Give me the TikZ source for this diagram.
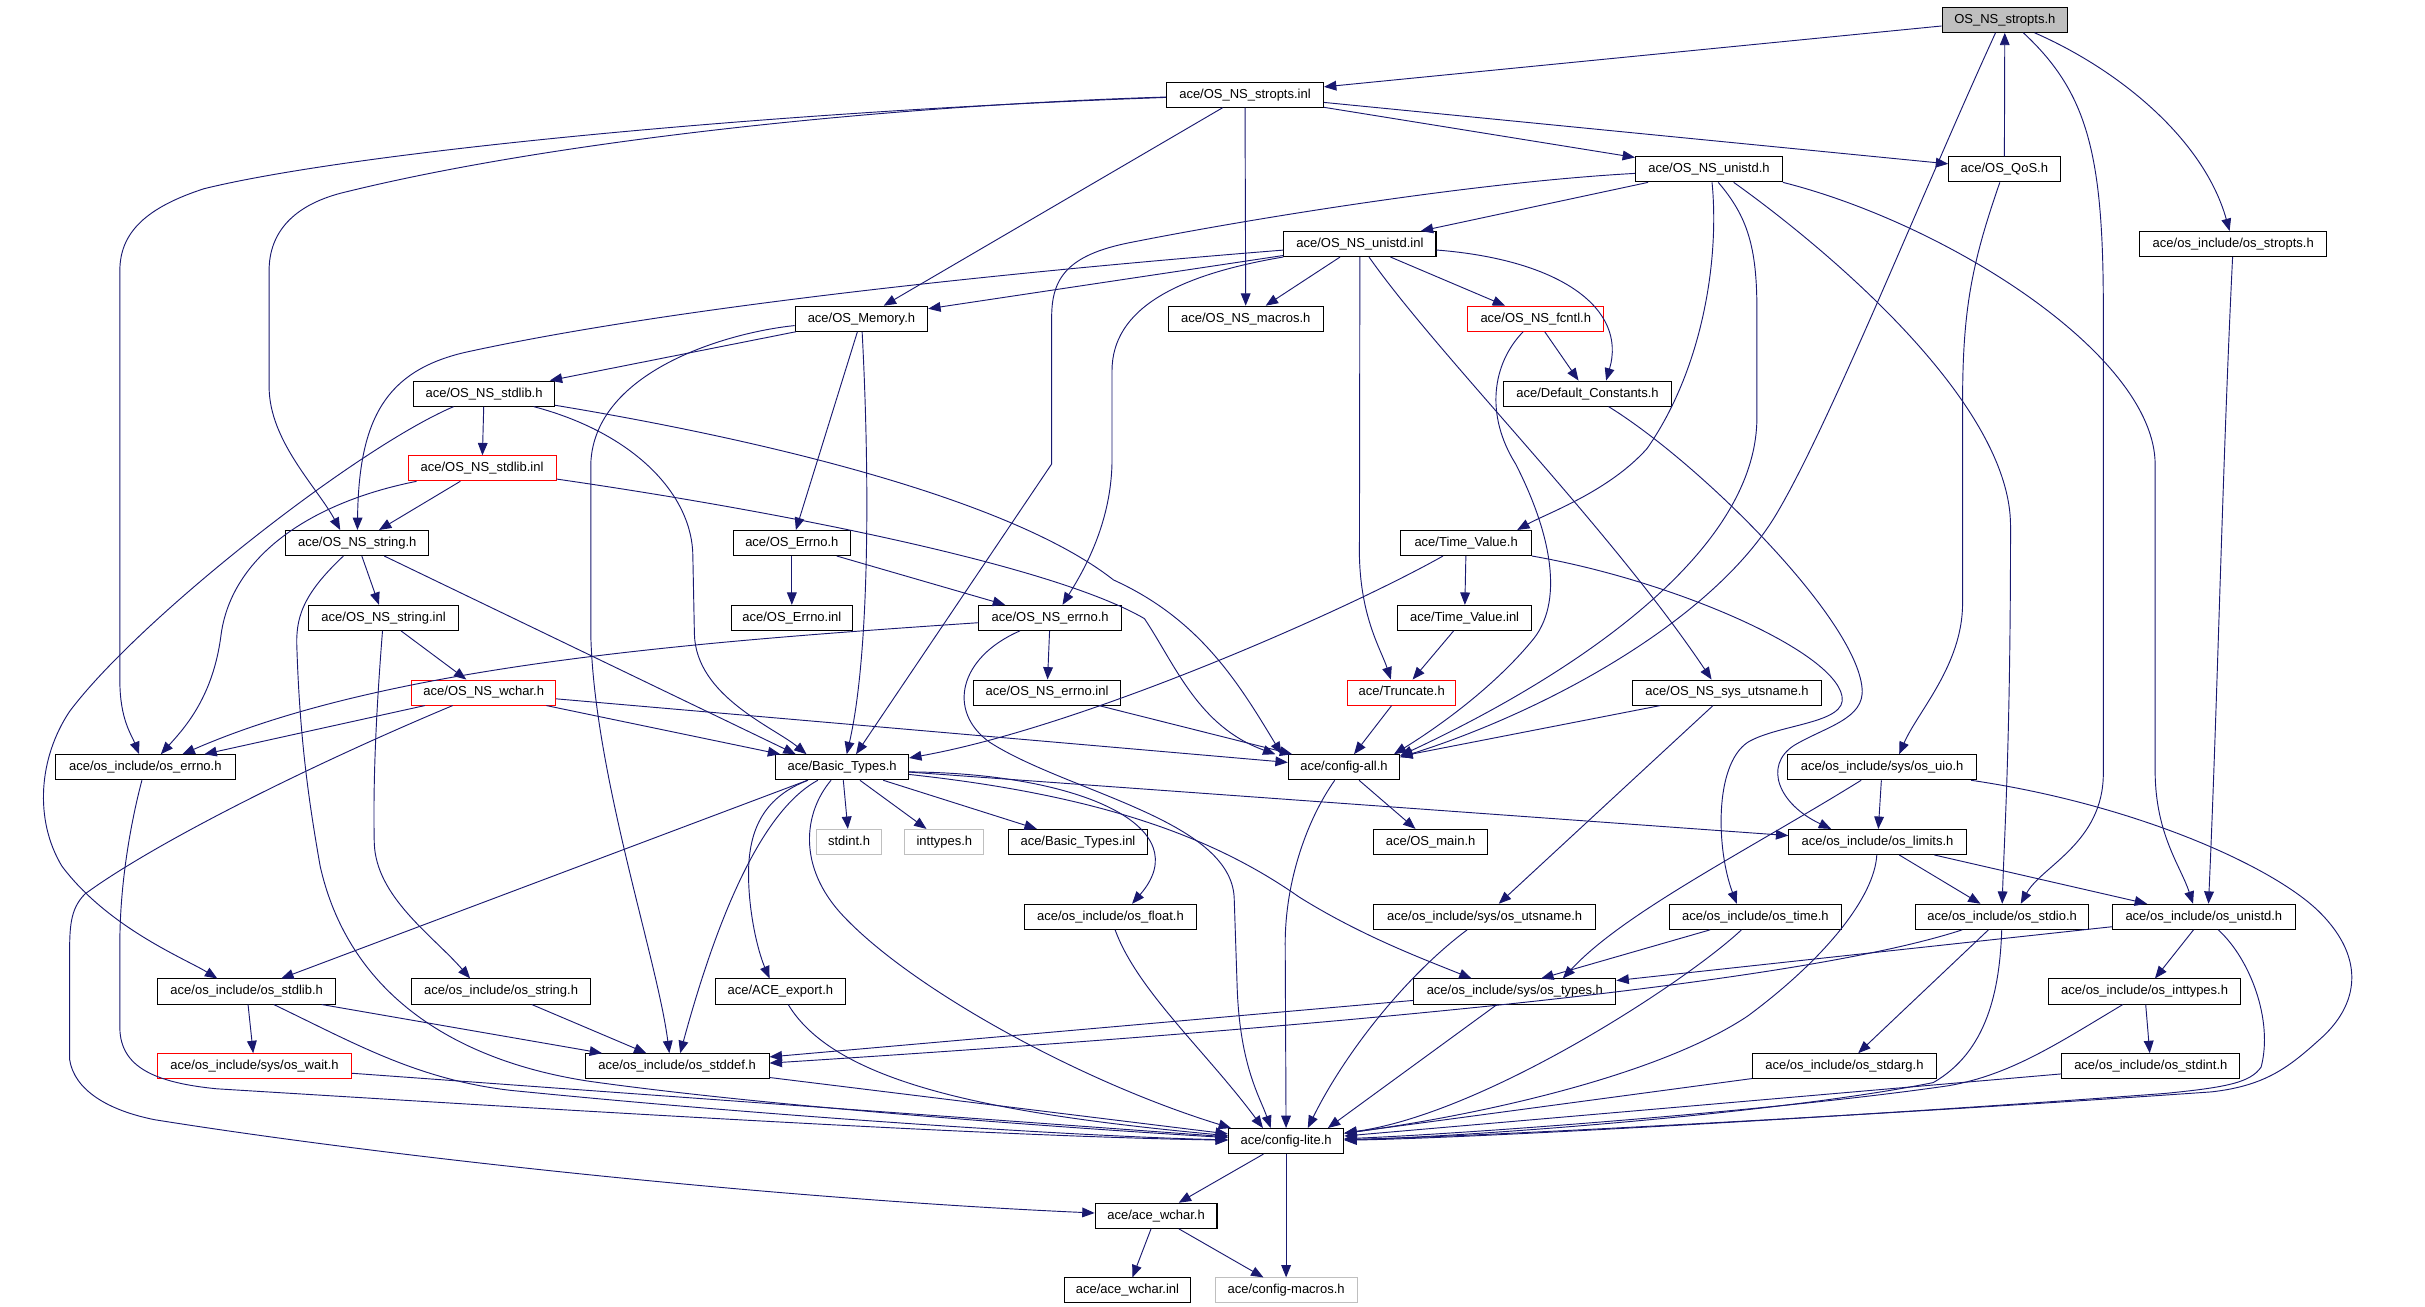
\documentclass[tikz,border=0pt]{standalone}
\usepackage{fontspec}
\setmainfont{Liberation Sans}
\usetikzlibrary{arrows.meta}
\definecolor{edgecol}{HTML}{191970}
\definecolor{rootfill}{HTML}{BFBFBF}
\definecolor{graybd}{HTML}{BFBFBF}
\begin{document}
\begin{tikzpicture}[x=1pt,y=-1pt,
  box/.style={draw=black, line width=0.65pt, fill=white, minimum height=16.2pt, inner xsep=3pt, inner ysep=0pt, text height=6.3pt, text depth=1.9pt, font=\fontsize{8.4}{10}\selectfont},
  redbox/.style={box, draw=red},
  graybox/.style={box, draw=graybd},
  rootbox/.style={box, fill=rootfill},
  dep/.style={draw=edgecol, line width=0.6pt, -{Triangle[length=8pt,width=6.3pt]}}]
\fill[white] (0,0) rectangle (1568,845.1);
\useasboundingbox (0,0) rectangle (1568,845.1);
% nodes
\node[rootbox, minimum width=81pt] (root) at (1296.3,12.8) {OS\_NS\_stropts.h};
\node[box, minimum width=101.5pt] (inl) at (805,61.2) {ace/OS\_NS\_stropts.inl};
\node[box, minimum width=95pt] (unh) at (1105,109.5) {ace/OS\_NS\_unistd.h};
\node[box, minimum width=72pt] (qos) at (1296,109.5) {ace/OS\_QoS.h};
\node[box, minimum width=121pt] (ostr) at (1444,157.8) {ace/os\_include/os\_stropts.h};
\node[box, minimum width=98.4pt] (uni) at (879.3,157.8) {ace/OS\_NS\_unistd.inl};
\node[box, minimum width=85.7pt] (mem) at (557,206.1) {ace/OS\_Memory.h};
\node[box, minimum width=100pt] (mac) at (805.5,206.1) {ace/OS\_NS\_macros.h};
\node[redbox, minimum width=88pt] (fcn) at (993,206.1) {ace/OS\_NS\_fcntl.h};
\node[box, minimum width=91pt] (nsl) at (313,254.5) {ace/OS\_NS\_stdlib.h};
\node[box, minimum width=109pt] (dc) at (1026.5,254.5) {ace/Default\_Constants.h};
\node[redbox, minimum width=95.7pt] (nsli) at (311.7,302.8) {ace/OS\_NS\_stdlib.inl};
\node[box, minimum width=92.5pt] (nss) at (231,351.1) {ace/OS\_NS\_string.h};
\node[box, minimum width=76pt] (err) at (512,351.1) {ace/OS\_Errno.h};
\node[box, minimum width=84.5pt] (tv) at (948,351.1) {ace/Time\_Value.h};
\node[box, minimum width=97pt] (nssi) at (248,399.5) {ace/OS\_NS\_string.inl};
\node[box, minimum width=78pt] (erri) at (512,399.5) {ace/OS\_Errno.inl};
\node[box, minimum width=92pt] (nse) at (679,399.5) {ace/OS\_NS\_errno.h};
\node[box, minimum width=87pt] (tvi) at (947,399.5) {ace/Time\_Value.inl};
\node[redbox, minimum width=93pt] (wch) at (312.8,447.8) {ace/OS\_NS\_wchar.h};
\node[box, minimum width=95.6pt] (nsei) at (677,447.8) {ace/OS\_NS\_errno.inl};
\node[redbox, minimum width=70pt] (trn) at (906.3,447.8) {ace/Truncate.h};
\node[box, minimum width=122pt] (uts) at (1116.7,447.8) {ace/OS\_NS\_sys\_utsname.h};
\node[box, minimum width=116pt] (oerr) at (94,496.1) {ace/os\_include/os\_errno.h};
\node[box, minimum width=86pt] (bt) at (544.5,496.1) {ace/Basic\_Types.h};
\node[box, minimum width=72pt] (cfa) at (869,496.1) {ace/config-all.h};
\node[box, minimum width=122.5pt] (uio) at (1217,496.1) {ace/os\_include/sys/os\_uio.h};
\node[graybox, minimum width=42pt] (sint) at (549,544.4) {stdint.h};
\node[graybox, minimum width=51pt] (itp) at (610.6,544.4) {inttypes.h};
\node[box, minimum width=89.5pt] (bti) at (697,544.4) {ace/Basic\_Types.inl};
\node[box, minimum width=74pt] (omain) at (925,544.4) {ace/OS\_main.h};
\node[box, minimum width=114.7pt] (lim) at (1214,544.4) {ace/os\_include/os\_limits.h};
\node[box, minimum width=111pt] (flt) at (718,592.8) {ace/os\_include/os\_float.h};
\node[box, minimum width=143.6pt] (suts) at (960,592.8) {ace/os\_include/sys/os\_utsname.h};
\node[box, minimum width=111pt] (otime) at (1135,592.8) {ace/os\_include/os\_time.h};
\node[box, minimum width=112pt] (stdio) at (1294.6,592.8) {ace/os\_include/os\_stdio.h};
\node[box, minimum width=118pt] (ouni) at (1425,592.8) {ace/os\_include/os\_unistd.h};
\node[box, minimum width=115pt] (ostdlib) at (159.5,641.1) {ace/os\_include/os\_stdlib.h};
\node[box, minimum width=116pt] (ostring) at (324,641.1) {ace/os\_include/os\_string.h};
\node[box, minimum width=84pt] (exp) at (504.6,641.1) {ace/ACE\_export.h};
\node[box, minimum width=130.7pt] (types) at (979.5,641.1) {ace/os\_include/sys/os\_types.h};
\node[box, minimum width=124.5pt] (inttp) at (1386.7,641.1) {ace/os\_include/os\_inttypes.h};
\node[redbox, minimum width=125.5pt] (wait) at (164.6,689.4) {ace/os\_include/sys/os\_wait.h};
\node[box, minimum width=119pt] (stddef) at (437.8,689.4) {ace/os\_include/os\_stddef.h};
\node[box, minimum width=119pt] (stdarg) at (1192.6,689.4) {ace/os\_include/os\_stdarg.h};
\node[box, minimum width=115pt] (stdint2) at (1390.7,689.4) {ace/os\_include/os\_stdint.h};
\node[box, minimum width=74.6pt] (cfl) at (831.6,737.8) {ace/config-lite.h};
\node[box, minimum width=78.8pt] (aw) at (747.5,786.1) {ace/ace\_wchar.h};
\node[box, minimum width=82pt] (awi) at (729,834.4) {ace/ace\_wchar.inl};
\node[graybox, minimum width=91.7pt] (cfm) at (831.6,834.4) {ace/config-macros.h};
% edges from OS_NS_stropts.h
\draw[dep] (root) -- (inl);
\draw[dep] ([xshift=-6pt]root.south) .. controls (1245,120) and (1185,270) .. (1150,330) .. controls (1110,400) and (1000,460) .. ([yshift=-2pt]cfa.north east);
\draw[dep] ([xshift=12pt]root.south) .. controls (1350,60) and (1360,100) .. (1360,200) -- (1360,500) .. controls (1360,545) and (1320,560) .. ([xshift=12pt]stdio.north);
\draw[dep] (root) .. controls (1370,45) and (1425,90) .. (ostr);
\draw[dep] (qos) -- (root);
% from OS_NS_stropts.inl
\draw[dep] (inl) .. controls (500,72) and (230,98) .. (132,122) .. controls (95,134) and (77.5,150) .. (77.5,175) -- (77.5,440) .. controls (77.5,465) and (85,475) .. ([xshift=-4pt]oerr.north);
\draw[dep] (inl) .. controls (580,68) and (360,90) .. (220,125) .. controls (190,133) and (174,150) .. (174,175) -- (174,250) .. controls (174,285) and (205,315) .. ([xshift=-11pt]nss.north);
\draw[dep] (inl) -- (mem);
\draw[dep] (inl) -- (mac);
\draw[dep] (inl) -- (unh);
\draw[dep] (inl) -- (qos);
% from OS_NS_unistd.h
\draw[dep] (unh) -- (uni);
\draw[dep] (unh) .. controls (950,118) and (800,143) .. (730,157) .. controls (690,165) and (680,180) .. (680,205) -- (680,300) -- ([xshift=9pt]bt.north);
\draw[dep] ([xshift=2pt]unh.south) .. controls (1112,170) and (1100,240) .. (1065,290) .. controls (1040,318) and (1000,332) .. ([xshift=33pt]tv.north);
\draw[dep] ([xshift=6pt]unh.south) .. controls (1130,140) and (1136,160) .. (1136,200) -- (1136,270) .. controls (1136,360) and (1010,440) .. ([yshift=-1pt]cfa.north east);
\draw[dep] ([xshift=16pt]unh.south) .. controls (1180,160) and (1300,260) .. (1300,340) .. controls (1300,480) and (1296,540) .. (stdio.north);
\draw[dep] (unh.south east) .. controls (1260,145) and (1393,230) .. (1393.5,300) -- (1393.5,500) .. controls (1394,540) and (1410,560) .. ([xshift=-7pt]ouni.north);
% OS_QoS.h, os_stropts.h
\draw[dep] (qos) .. controls (1275,170) and (1269,200) .. (1269,260) -- (1269,390) .. controls (1269,430) and (1240,460) .. ([xshift=11pt]uio.north);
\draw[dep] (ostr) .. controls (1437,300) and (1434,450) .. ([xshift=3pt]ouni.north);
% from OS_NS_unistd.inl
\draw[dep] (uni) -- (mem);
\draw[dep] (uni) -- (mac);
\draw[dep] (uni) -- (fcn);
\draw[dep] (uni) .. controls (1010,168) and (1052,200) .. ([xshift=12pt]dc.north);
\draw[dep] (uni) .. controls (700,172) and (450,195) .. (300,228) .. controls (250,240) and (232,270) .. (nss);
\draw[dep] (uni) .. controls (760,178) and (719,200) .. (719,240) -- (719,300) .. controls (718,340) and (700,370) .. ([xshift=8pt]nse.north);
\draw[dep] (uni) -- (879,360) .. controls (880,400) and (893,420) .. ([xshift=-7pt]trn.north);
\draw[dep] (uni) .. controls (930,230) and (1040,340) .. ([xshift=-10pt]uts.north);
% from OS_Memory.h
\draw[dep] (mem) -- (nsl);
\draw[dep] (mem) -- (err);
\draw[dep] (mem) .. controls (562,300) and (563,420) .. ([xshift=3pt]bt.north);
\draw[dep] (mem) .. controls (470,215) and (384,240) .. (382,300) -- (382,410) .. controls (384,500) and (425,620) .. ([xshift=-5pt]stddef.north);
% OS_NS_fcntl.h, Default_Constants.h
\draw[dep] (fcn) -- (dc);
\draw[dep] (fcn) .. controls (965,235) and (960,268) .. (980,300) .. controls (1003,345) and (1012,390) .. (990,415) .. controls (965,445) and (930,470) .. ([xshift=-4pt]cfa.north east);
\draw[dep] (dc) .. controls (1100,300) and (1200,400) .. (1204,445) .. controls (1206,465) and (1180,470) .. (1160,482) .. controls (1140,495) and (1150,520) .. ([xshift=-30pt]lim.north);
% OS_NS_stdlib.h
\draw[dep] (nsl) -- (nsli);
\draw[dep] (nsl) .. controls (230,290) and (90,400) .. (45,460) .. controls (25,490) and (22,530) .. (40,560) .. controls (70,600) and (120,620) .. ([xshift=-19pt]ostdlib.north);
\draw[dep] (nsl) .. controls (410,280) and (448,320) .. (448,360) -- (449,410) .. controls (450,450) and (500,470) .. ([xshift=-23pt]bt.north);
\draw[dep] (nsl) .. controls (480,282) and (650,320) .. (720,375) .. controls (775,400) and (800,440) .. ([xshift=-4pt]cfa.north west);
% OS_NS_stdlib.inl
\draw[dep] (nsli) -- (nss);
\draw[dep] (nsli) .. controls (200,325) and (150,360) .. (143,410) .. controls (138,450) and (120,470) .. ([xshift=10pt]oerr.north);
\draw[dep] (nsli) .. controls (500,330) and (680,365) .. (740,400) .. controls (760,430) and (775,470) .. ([xshift=-8pt]cfa.north west);
% OS_NS_string.h, .inl
\draw[dep] (nss) -- (nssi);
\draw[dep] (nss) -- ([xshift=-30pt]bt.north);
\draw[dep] (nss) .. controls (195,385) and (191,400) .. (192,420) .. controls (194,480) and (200,520) .. (207,560) .. controls (225,640) and (290,685) .. (380,699) .. controls (500,716) and (700,730) .. (cfl);
\draw[dep] (nssi) -- (wch);
\draw[dep] (nssi) .. controls (244,450) and (241,500) .. (242,545) .. controls (243,580) and (280,605) .. ([xshift=-20pt]ostring.north);
% OS_Errno.h, Time_Value
\draw[dep] (err) -- (erri);
\draw[dep] (err) -- (nse);
\draw[dep] (tv) -- (tvi);
\draw[dep] (tv) .. controls (870,395) and (700,470) .. ([yshift=6pt]bt.east);
\draw[dep] (tv.south east) .. controls (1080,375) and (1185,420) .. (1191,450) .. controls (1195,468) and (1150,468) .. (1130,480) .. controls (1108,495) and (1110,550) .. ([xshift=-12pt]otime.north);
\draw[dep] (tvi) -- (trn);
% OS_NS_errno.h
\draw[dep] (nse) -- (nsei);
\draw[dep] (nse) .. controls (450,415) and (250,430) .. ([xshift=24pt]oerr.north);
\draw[dep] (nse) .. controls (620,425) and (612,460) .. (640,480) .. controls (690,512) and (795,530) .. (798,580) -- (800,640) .. controls (802,690) and (815,710) .. ([xshift=-10pt]cfl.north);
\draw[dep] (nsei) -- (cfa);
\draw[dep] (trn) -- (cfa);
\draw[dep] (uts) -- (cfa);
\draw[dep] (uts) -- (suts);
% OS_NS_wchar.h
\draw[dep] (wch) -- (oerr);
\draw[dep] (wch) -- ([xshift=-40pt]bt.north);
\draw[dep] (wch) -- (cfa);
\draw[dep] (wch) .. controls (200,495) and (100,545) .. (55,578) .. controls (45,588) and (45,600) .. (45,620) -- (45,685) .. controls (48,705) and (70,718) .. (100,724) .. controls (250,748) and (500,775) .. (aw);
% os_errno.h
\draw[dep] (oerr) .. controls (85,530) and (77.5,570) .. (77.5,610) -- (77.5,665) .. controls (78,690) and (100,700) .. (140,704) .. controls (400,720) and (650,735) .. (cfl);
% Basic_Types.h
\draw[dep] (bt) -- (sint);
\draw[dep] (bt) -- (itp);
\draw[dep] (bt) -- (bti);
\draw[dep] (bt) -- (lim);
\draw[dep] ([yshift=-3pt]bt.east) .. controls (700,500) and (775,535) .. ([xshift=14pt]flt.north);
\draw[dep] (bt) .. controls (720,515) and (790,545) .. (840,580) .. controls (880,605) and (920,620) .. ([xshift=-28pt]types.north);
\draw[dep] (bt) .. controls (495,515) and (484,535) .. (484,565) .. controls (484,590) and (490,615) .. ([xshift=-7pt]exp.north);
\draw[dep] (bt) .. controls (500,520) and (470,570) .. ([xshift=2pt]stddef.north);
\draw[dep] (bt) -- (ostdlib);
\draw[dep] (bt) .. controls (520,525) and (515,560) .. (545,592) .. controls (590,640) and (700,700) .. ([xshift=2pt]cfl.north west);
% config-all.h
\draw[dep] (cfa) -- (omain);
\draw[dep] (cfa) .. controls (845,530) and (831,570) .. (831,610) -- (cfl);
% os_uio.h
\draw[dep] (uio) -- (lim);
\draw[dep] (uio) .. controls (1130,550) and (1050,590) .. ([xshift=31pt]types.north);
\draw[dep] (uio) .. controls (1380,520) and (1470,560) .. (1500,590) .. controls (1530,620) and (1525,650) .. (1500,672) .. controls (1480,690) and (1465,702) .. (1430,706) .. controls (1200,722) and (950,735) .. (cfl);
% os_limits.h
\draw[dep] (lim) -- (stdio);
\draw[dep] (lim) -- (ouni);
\draw[dep] (lim) .. controls (1212,580) and (1180,620) .. (1130,657) .. controls (1070,697) and (950,722) .. (cfl);
% row 12
\draw[dep] (flt) .. controls (735,640) and (780,680) .. ([xshift=-15pt]cfl.north);
\draw[dep] (suts) .. controls (910,630) and (870,680) .. ([xshift=14pt]cfl.north);
\draw[dep] (otime) -- ([xshift=17pt]types.north);
\draw[dep] (otime) .. controls (1090,635) and (960,720) .. (cfl);
\draw[dep] (stdio) .. controls (1150,640) and (800,668) .. ([yshift=2pt]stddef.east);
\draw[dep] (stdio) -- (stdarg);
\draw[dep] (stdio) .. controls (1293,640) and (1285,680) .. (1250,700) .. controls (1150,720) and (950,735) .. (cfl);
\draw[dep] (ouni) -- (inttp);
\draw[dep] (ouni) -- (types);
\draw[dep] (ouni) .. controls (1455,620) and (1470,660) .. (1462,690) .. controls (1455,700) and (1440,703) .. (1400,707) .. controls (1200,722) and (950,736) .. (cfl);
% row 13
\draw[dep] (ostdlib) -- (wait);
\draw[dep] (ostdlib) -- (stddef);
\draw[dep] (ostdlib) .. controls (230,675) and (270,698) .. (330,705) .. controls (500,722) and (700,735) .. (cfl);
\draw[dep] (ostring) -- (stddef);
\draw[dep] (exp) .. controls (540,700) and (640,720) .. (cfl);
\draw[dep] (types) -- ([yshift=6pt]stddef.east);
\draw[dep] (types) -- ([xshift=27pt]cfl.north);
\draw[dep] (inttp) .. controls (1330,675) and (1300,695) .. (1260,702) .. controls (1150,718) and (950,733) .. (cfl);
\draw[dep] (inttp) -- (stdint2);
% row 14
\draw[dep] (wait) -- (cfl);
\draw[dep] (stddef) -- (cfl);
\draw[dep] (stdarg) -- (cfl);
\draw[dep] (stdint2) -- (cfl);
% bottom
\draw[dep] (cfl) -- (aw);
\draw[dep] (cfl) -- (cfm);
\draw[dep] (aw) -- (awi);
\draw[dep] (aw) -- (cfm);
\end{tikzpicture}
\end{document}
